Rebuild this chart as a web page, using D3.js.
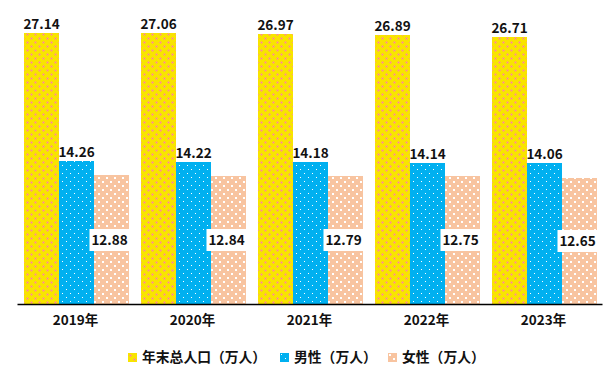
<!DOCTYPE html>
<html>
<head>
<meta charset="utf-8">
<script src="https://cdn.jsdelivr.net/npm/d3@7/dist/d3.min.js"></script>
<style>
  body { margin: 0; background: #fff; }
  svg { display: block; font-family: "Noto Sans CJK SC", "Liberation Sans", sans-serif; font-weight: bold; }
</style>
</head>
<body>
<svg id="chart" width="614" height="382"></svg>
<script>
const years = ['2019年', '2020年', '2021年', '2022年', '2023年'];
const totalPop = [27.14, 27.06, 26.97, 26.89, 26.71];
const malePop = [14.26, 14.22, 14.18, 14.14, 14.06];
const femalePop = [12.88, 12.84, 12.79, 12.75, 12.65];
const seriesNames = ['年末总人口（万人）', '男性（万人）', '女性（万人）'];

const svg = d3.select('#chart');
const defs = svg.append('defs');

// 黄色：棋盘格的平均色加稀疏粉色小十字
const pY = defs.append('pattern').attr('id', 'pYellow').attr('patternUnits', 'userSpaceOnUse')
  .attr('width', 8).attr('height', 8);
pY.append('rect').attr('width', 8).attr('height', 8).attr('fill', '#F8E400');
[[2, 2], [6, 6]].forEach(([cx, cy]) => {
  pY.append('rect').attr('x', cx - 1).attr('y', cy).attr('width', 3).attr('height', 1).attr('fill', '#FFA070');
  pY.append('rect').attr('x', cx).attr('y', cy - 1).attr('width', 1).attr('height', 3).attr('fill', '#FFA070');
});

const dotPattern = (id, bg, size) => {
  const p = defs.append('pattern').attr('id', id).attr('patternUnits', 'userSpaceOnUse')
    .attr('width', 8).attr('height', 8);
  p.append('rect').attr('width', 8).attr('height', 8).attr('fill', bg);
  p.append('rect').attr('x', 1).attr('y', 1).attr('width', size).attr('height', size).attr('fill', '#fff');
  p.append('rect').attr('x', 5).attr('y', 5).attr('width', size).attr('height', size).attr('fill', '#fff');
};
dotPattern('pBlue', '#00B0F0', 1);
dotPattern('pPeach', '#F8C4A0', 2);

const fills = ['url(#pYellow)', 'url(#pBlue)', 'url(#pPeach)'];

const x = d3.scaleBand().domain(years).range([17, 602]).round(true);
const xs = d3.scaleBand().domain([0, 1, 2]).range([6, x.bandwidth() - 5]).round(true);
const y = d3.scaleLinear().domain([0, 30]).range([304, 4]);

const rows = years.map((yr, i) => ({ yr, vals: [totalPop[i], malePop[i], femalePop[i]] }));

const g = svg.selectAll('g.grp').data(rows).join('g')
  .attr('class', 'grp')
  .attr('transform', d => `translate(${x(d.yr)},0)`);

g.selectAll('rect.bar').data(d => d.vals).join('rect')
  .attr('class', 'bar')
  .attr('x', (d, k) => xs(k))
  .attr('y', d => Math.round(y(d)))
  .attr('width', xs.bandwidth())
  .attr('height', d => y(0) - Math.round(y(d)))
  .attr('fill', (d, k) => fills[k]);

// 总人口、男性：标签在柱顶
g.selectAll('text.top').data(d => d.vals.slice(0, 2)).join('text')
  .attr('class', 'top')
  .attr('x', (d, k) => xs(k) + xs.bandwidth() / 2)
  .attr('y', d => y(d) - 4)
  .attr('text-anchor', 'middle')
  .attr('font-size', 13.5)
  .attr('fill', '#111')
  .text(d => d.toFixed(2));

// 女性：标签在柱中间，白底
const mid = g.append('g')
  .attr('transform', d => `translate(${xs(2) + xs.bandwidth() / 2 - 2},${Math.round((y(d.vals[2]) + y(0)) / 2)})`);
mid.append('rect').attr('x', -20).attr('y', -11).attr('width', 40).attr('height', 22).attr('fill', '#fff');
mid.append('text')
  .attr('text-anchor', 'middle')
  .attr('dy', '0.36em')
  .attr('font-size', 13.5)
  .attr('fill', '#111')
  .text(d => d.vals[2].toFixed(2));

const xAxis = svg.append('g')
  .attr('transform', `translate(0,${y(0)})`)
  .call(d3.axisBottom(x).tickSize(0).tickSizeOuter(0).tickPadding(11));
xAxis.select('.domain').attr('stroke', '#000').attr('stroke-width', 1.5);
xAxis.selectAll('text')
  .attr('font-size', 13.5)
  .attr('font-weight', 'bold')
  .attr('font-family', '"Noto Sans CJK SC", sans-serif')
  .attr('fill', '#111');

const legendX = [128, 280, 388];
const lg = svg.selectAll('g.lg').data(seriesNames).join('g')
  .attr('class', 'lg')
  .attr('transform', (d, i) => `translate(${legendX[i]},353)`);
lg.append('rect').attr('width', 9).attr('height', 9).attr('fill', (d, i) => fills[i]);
lg.append('text')
  .attr('x', 14)
  .attr('y', 4.5)
  .attr('dy', '0.36em')
  .attr('font-size', 13.8)
  .attr('fill', '#111')
  .text(d => d);
</script>
</body>
</html>
